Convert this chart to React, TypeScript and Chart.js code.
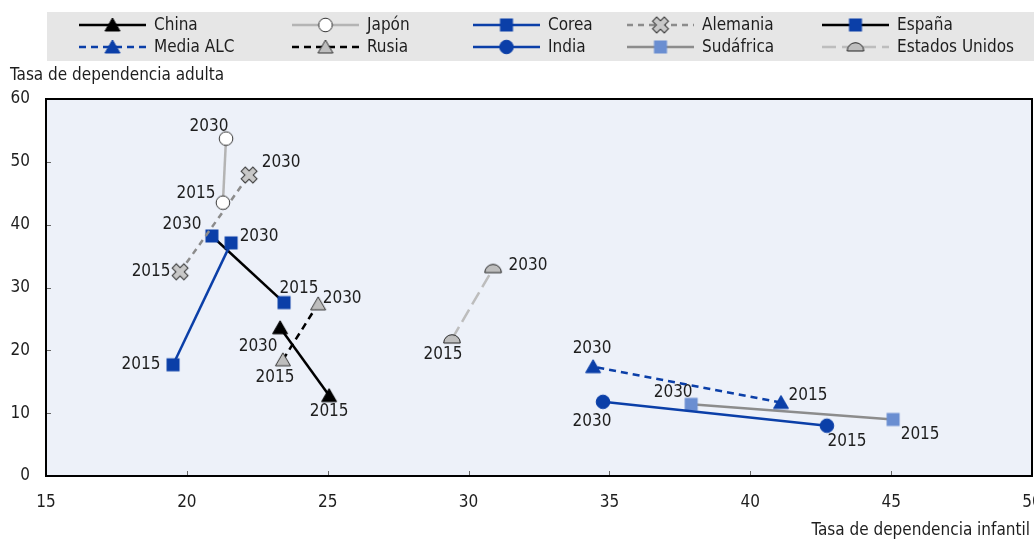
import React, { useEffect, useRef } from "react";
import { Chart, registerables } from "chart.js";

Chart.register(...registerables);

// ---------- Data ----------
const seriesNames = ["China", "Media ALC", "Japón", "Rusia", "Corea", "India", "Alemania", "Sudáfrica", "España", "Estados Unidos"];
const yearLabels = ["2015", "2030"];
// Tasa de dependencia infantil (x)
const childRatio2015 = [25.05, 41.09, 21.28, 23.41, 19.51, 42.72, 19.76, 45.07, 23.45, 29.41];
const childRatio2030 = [23.31, 34.42, 21.39, 24.66, 21.57, 34.77, 22.21, 37.9, 20.89, 30.87];
// Tasa de dependencia adulta (y)
const oldRatio2015 = [12.8, 11.7, 43.5, 18.5, 17.7, 8.0, 32.5, 9.0, 27.6, 21.8];
const oldRatio2030 = [23.6, 17.4, 53.7, 27.4, 37.1, 11.8, 47.9, 11.4, 38.2, 33.0];
const xAxisRange = [15, 50];
const yAxisRange = [0, 60];
const xTitle = "Tasa de dependencia infantil";
const yTitle = "Tasa de dependencia adulta";

// ---------- Styles (kept apart from data) ----------
const FONT = '"Liberation Sans Narrow", "Arial Narrow", "DejaVu Sans Condensed", sans-serif';
const FS = 17;
const TEXT = "#1E1E1E";
const BLUE = "#0B3FA8";
const lineColors = ["#000000", BLUE, "#B4B4B4", "#000000", BLUE, BLUE, "#8C8C8C", "#8C8C8C", "#000000", "#BDBDBD"];
const lineDashes: number[][] = [[], [7, 5], [], [7, 5], [], [], [6, 5], [], [], [14, 6]];
const markerKinds = ["triangle", "triangle", "circle", "triangle", "square", "circle", "xcross", "square", "square", "dome"];
const markerFills = ["#000000", BLUE, "#FFFFFF", "#BEBEBE", BLUE, BLUE, "#C8C8C8", "#6A8ED1", BLUE, "#BEBEBE"];
const markerStrokes = ["#000000", BLUE, "#333333", "#333333", BLUE, BLUE, "#333333", "#6A8ED1", BLUE, "#222222"];
// label offsets in px [dx, dy] relative to the point
const labelOffsets2015 = [[0, 16], [27, -7], [-27, -9], [-8, 18], [-32, 0], [20, 16], [-29, 0], [27, 15], [15, -14], [-9, 16]];
const labelOffsets2030 = [[-22, 19], [-1, -18], [-17, -12], [24, -5], [28, -6], [-11, 20], [32, -12], [-18, -12], [-30, -11], [35, -3]];

function makeMarker(kind: string, fill: string, stroke: string): HTMLCanvasElement {
  const c = document.createElement("canvas");
  c.width = 20;
  c.height = 20;
  const ctx = c.getContext("2d")!;
  ctx.fillStyle = fill;
  ctx.strokeStyle = stroke;
  ctx.lineWidth = 1;
  if (kind === "triangle") {
    ctx.beginPath();
    ctx.moveTo(10, 3);
    ctx.lineTo(17.5, 16);
    ctx.lineTo(2.5, 16);
    ctx.closePath();
    ctx.fill();
    ctx.stroke();
  } else if (kind === "circle") {
    ctx.beginPath();
    ctx.arc(10, 10, 6.8, 0, Math.PI * 2);
    ctx.fill();
    ctx.stroke();
  } else if (kind === "square") {
    ctx.fillRect(3.5, 3.5, 13, 13);
  } else if (kind === "xcross") {
    const drawRects = (mode: "stroke" | "fill") => {
      for (const a of [Math.PI / 4, -Math.PI / 4]) {
        ctx.save();
        ctx.translate(10, 10);
        ctx.rotate(a);
        ctx.beginPath();
        ctx.rect(-7.8, -2.4, 15.6, 4.8);
        if (mode === "stroke") ctx.stroke();
        else ctx.fill();
        ctx.restore();
      }
    };
    ctx.lineWidth = 2;
    drawRects("stroke");
    drawRects("fill");
  } else if (kind === "dome") {
    ctx.beginPath();
    ctx.arc(10, 14, 8.3, Math.PI, 0);
    ctx.closePath();
    ctx.fill();
    ctx.stroke();
  }
  return c;
}

const zeroPadding = () => ({ left: 0, top: 0, right: 0, bottom: 0 });

export default function App() {
  const ref = useRef<HTMLCanvasElement | null>(null);

  useEffect(() => {
    const canvas = ref.current!;
    const markers = seriesNames.map((_, i) => makeMarker(markerKinds[i], markerFills[i], markerStrokes[i]));

    const datasets = seriesNames.map((name, i) => ({
      label: name,
      data: [
        { x: childRatio2015[i], y: oldRatio2015[i] },
        { x: childRatio2030[i], y: oldRatio2030[i] },
      ],
      showLine: true,
      borderColor: lineColors[i],
      borderWidth: 2.5,
      borderDash: lineDashes[i],
      backgroundColor: markerFills[i],
      pointStyle: markers[i],
      pointRadius: 8,
      pointHoverRadius: 8,
    }));

    const decor = {
      id: "decor",
      beforeDraw(chart: any) {
        const { ctx, chartArea: a } = chart;
        ctx.save();
        ctx.fillStyle = "#EDF1F9";
        ctx.fillRect(a.left, a.top, a.right - a.left, a.bottom - a.top);
        ctx.restore();
      },
      beforeDatasetsDraw(chart: any) {
        const { ctx, chartArea: a, scales } = chart;
        ctx.save();
        ctx.strokeStyle = "#666";
        ctx.lineWidth = 1;
        scales.x.ticks.forEach((t: any) => {
          const px = Math.round(scales.x.getPixelForValue(t.value)) + 0.5;
          ctx.beginPath();
          ctx.moveTo(px, a.bottom);
          ctx.lineTo(px, a.bottom - 5);
          ctx.stroke();
        });
        scales.y.ticks.forEach((t: any) => {
          const py = Math.round(scales.y.getPixelForValue(t.value)) + 0.5;
          ctx.beginPath();
          ctx.moveTo(a.left, py);
          ctx.lineTo(a.left + 5, py);
          ctx.stroke();
        });
        ctx.strokeStyle = "#000";
        ctx.lineWidth = 2;
        ctx.strokeRect(a.left, a.top, a.right - a.left, a.bottom - a.top);
        ctx.restore();
      },
      afterDatasetsDraw(chart: any) {
        const { ctx } = chart;
        ctx.save();
        ctx.font = `${FS}px ${FONT}`;
        ctx.fillStyle = TEXT;
        ctx.textAlign = "center";
        ctx.textBaseline = "middle";
        chart.data.datasets.forEach((_: any, i: number) => {
          const meta = chart.getDatasetMeta(i);
          meta.data.forEach((pt: any, j: number) => {
            const off = j === 0 ? labelOffsets2015[i] : labelOffsets2030[i];
            ctx.fillText(yearLabels[j], pt.x + off[0], pt.y + off[1]);
          });
        });
        ctx.restore();
      },
      afterDraw(chart: any) {
        const { ctx } = chart;
        ctx.save();
        // legend box
        ctx.fillStyle = "#E6E6E6";
        ctx.fillRect(47, 12, 1034 - 47, 49);
        const colX = [79, 292, 473, 627, 822];
        const rowY = [25, 47];
        seriesNames.forEach((name, i) => {
          const col = Math.floor(i / 2);
          const row = i % 2;
          const x1 = colX[col];
          const x2 = x1 + 67;
          const y = rowY[row];
          ctx.strokeStyle = lineColors[i];
          ctx.lineWidth = 2.5;
          ctx.setLineDash(lineDashes[i]);
          ctx.beginPath();
          ctx.moveTo(x1, y);
          ctx.lineTo(x2, y);
          ctx.stroke();
          ctx.setLineDash([]);
          const m = markers[i];
          ctx.drawImage(m, (x1 + x2) / 2 - m.width / 2, y - m.height / 2);
          ctx.fillStyle = TEXT;
          ctx.font = `${FS}px ${FONT}`;
          ctx.textAlign = "left";
          ctx.textBaseline = "middle";
          ctx.fillText(name, x2 + 8, y + 1);
        });
        // axis titles
        ctx.fillStyle = TEXT;
        ctx.font = `${FS}px ${FONT}`;
        ctx.textBaseline = "middle";
        ctx.textAlign = "left";
        ctx.fillText(yTitle, 10, 76);
        ctx.textAlign = "right";
        ctx.fillText(xTitle, 1030, 531);
        ctx.restore();
      },
    };

    const chart = new Chart(canvas, {
      type: "scatter",
      data: { datasets: datasets as any },
      options: {
        responsive: false,
        animation: false,
        layout: { autoPadding: false, padding: { top: 99, right: 2, left: 0, bottom: 0 } },
        plugins: { legend: { display: false }, tooltip: { enabled: false } },
        scales: {
          x: {
            type: "linear",
            min: xAxisRange[0],
            max: xAxisRange[1],
            ticks: { stepSize: 5, font: { family: FONT, size: FS }, color: TEXT, padding: 16 },
            grid: { display: false, drawTicks: false },
            border: { display: false },
            afterFit: (s: any) => {
              s.height = 65;
              s.paddingLeft = 0;
              s.paddingRight = 0;
              s.getPadding = zeroPadding;
            },
          },
          y: {
            type: "linear",
            min: yAxisRange[0],
            max: yAxisRange[1],
            ticks: { stepSize: 10, font: { family: FONT, size: FS }, color: TEXT, padding: 16 },
            grid: { display: false, drawTicks: false },
            border: { display: false },
            afterFit: (s: any) => {
              s.width = 46;
              s.paddingTop = 0;
              s.paddingBottom = 0;
              s.getPadding = zeroPadding;
            },
          },
        },
      },
      plugins: [decor],
    });
    return () => chart.destroy();
  }, []);

  return (
    <div style={{ position: "absolute", left: 0, top: 0, width: 1034, height: 541, background: "#fff" }}>
      <canvas ref={ref} width={1034} height={541} style={{ width: 1034, height: 541, display: "block" }} />
    </div>
  );
}
